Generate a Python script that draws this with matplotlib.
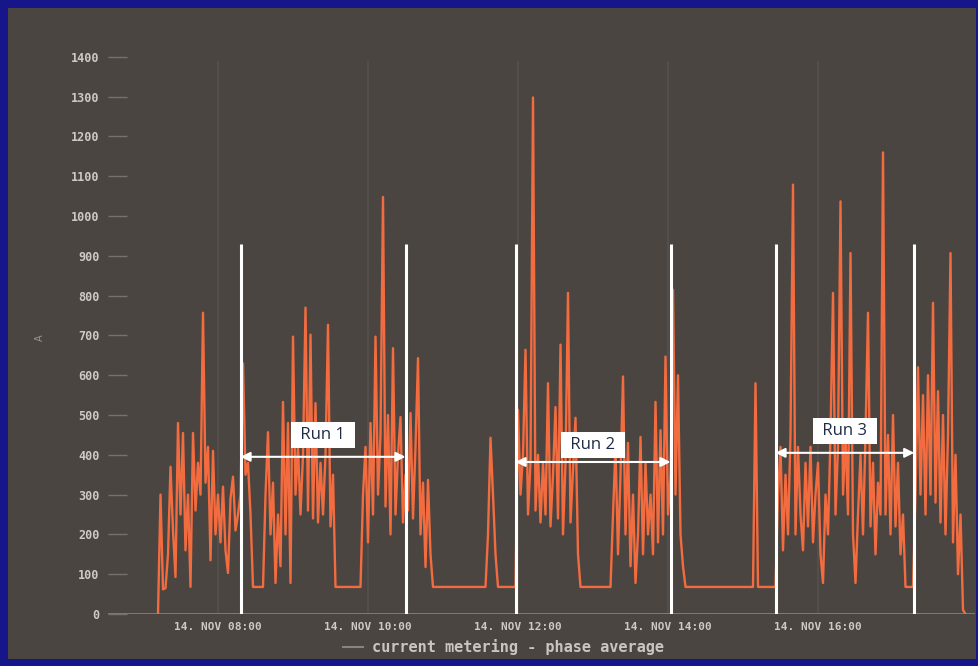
import numpy as np
import matplotlib.pyplot as plt
from matplotlib.patches import Rectangle
from matplotlib.lines import Line2D

# phase average current, one reading every 2 minutes starting 07:12
start_hour = 7 + 12 / 60
step_min = 2

seg_a = [0, 300, 62, 65, 150, 370, 210, 93, 480, 250, 455, 160, 300, 68, 455,
         260, 380, 300, 757, 330, 420, 135, 410, 200, 300, 180, 320, 160, 103, 290,
         345, 210, 250]
seg_run1 = [300, 630, 350, 380, 250, 68, 68, 68, 68, 68,
            300, 457, 200, 330, 78, 250, 120, 533, 200, 480,
            78, 697, 300, 420, 250, 400, 770, 260, 702, 240,
            530, 230, 380, 250, 400, 727, 220, 350, 68, 68,
            68, 68, 68, 68, 68, 68, 68, 68, 68,
            300, 420, 180, 480, 250, 697, 300, 450, 1048, 270,
            500, 200, 668, 250, 400, 495, 230]
seg_b = [350, 260, 505, 240, 420, 643, 200, 330, 118, 337, 150, 68] + [68] * 21 + \
        [200, 443, 300, 150, 68] + [68] * 7
seg_run2 = [513, 300, 400, 664, 250, 380, 1298, 260, 400, 230,
            380, 250, 580, 220, 350, 520, 240, 677, 200, 380,
            807, 230, 360, 493, 150, 68] + [68] * 12 + \
           [250, 420, 150, 350, 597, 200, 430, 120, 300, 78,
            200, 445, 150, 380, 200, 300, 150, 533, 180, 462,
            200, 647, 250]
seg_c = [350, 815, 300, 600, 200, 120, 68] + [68] * 27 + [580, 68] + [68] * 7
seg_run3 = [300, 420, 160, 350, 200, 450, 1079, 200, 420, 250,
            160, 380, 220, 420, 180, 300, 380, 150, 78, 300,
            200, 450, 807, 250, 420, 1037, 300, 450, 250, 907,
            200, 78, 250, 400, 200, 450, 757, 220, 380, 150,
            330, 250, 1160, 250, 450, 200, 500, 220, 380, 150,
            250, 68, 68, 68, 68]
seg_d = [300, 620, 300, 550, 250, 600, 300, 782, 280, 560,
         230, 500, 200, 450, 907, 180, 400, 100, 250, 10, 0]

current = np.concatenate([seg_a, seg_run1, seg_b, seg_run2, seg_c, seg_run3, seg_d])
hours = start_hour + np.arange(len(current)) * step_min / 60

tick_hours = [8, 10, 12, 14, 16]
tick_labels = ["14. NOV 08:00", "14. NOV 10:00", "14. NOV 12:00",
               "14. NOV 14:00", "14. NOV 16:00"]
y_ticks = list(range(0, 1500, 100))

run_names = ["Run 1", "Run 2", "Run 3"]
run_start = [8 + 18 / 60, 11 + 58 / 60, 15 + 26 / 60]
run_end = [10 + 30 / 60, 14 + 2 / 60, 17 + 17 / 60]
arrow_level = [395, 382, 405]
label_level = [450, 425, 460]
marker_top = 930

W, H = 979, 666
fig = plt.figure(figsize=(W / 100, H / 100), dpi=100)
fig.patch.set_facecolor('#16168a')
fig.add_artist(Rectangle((8 / W, 7 / H), 968 / W, 651 / H, transform=fig.transFigure,
                         facecolor='#4a4541', edgecolor='none', zorder=0))

ax = fig.add_axes([108 / W, 52 / H, 867 / W, 577 / H])
ax.set_facecolor('none')
ax.set_xlim(6.5333, 18.0933)
ax.set_ylim(0, 1450)
for s in ax.spines.values():
    s.set_visible(False)

# faint grid and base line
ax.vlines(tick_hours, 0, 1390, color='#57514d', lw=1.2, zorder=1)
ax.axhline(0, color='#8a8480', lw=1.2, zorder=1)

ax.plot(hours, current, color='#f26c40', lw=1.7, zorder=3)

mono = dict(family='DejaVu Sans Mono', weight='bold')
ax.set_yticks(y_ticks)
ax.set_yticklabels([str(v) for v in y_ticks], **mono)
ax.set_xticks(tick_hours)
ax.set_xticklabels(tick_labels, **mono)
ax.tick_params(axis='y', direction='in', length=14, width=1, color='#77716d',
               labelcolor='#cfc9c5', labelsize=8.5, pad=6)
ax.tick_params(axis='x', length=0, labelcolor='#cfc9c5', labelsize=8, pad=6)

# run markers
ax.vlines(run_start + run_end, 0, marker_top, color='white', lw=2.2, zorder=5)
for name, a, b, ya, yl in zip(run_names, run_start, run_end, arrow_level, label_level):
    ax.annotate('', xy=(b, ya), xytext=(a, ya),
                arrowprops=dict(arrowstyle='<|-|>', color='white', lw=1.5,
                                mutation_scale=14, shrinkA=0, shrinkB=0), zorder=6)
    ax.text((a + b) / 2, yl, ' ' + name + ' ', ha='center', va='center', fontsize=12,
            family='Open Sans', color='#1f2a44', zorder=7,
            bbox=dict(boxstyle='square,pad=0.3', fc='white', ec='none'))

fig.text(40 / W, 1 - 338 / H, 'A', rotation=90, color='#9a9490', fontsize=7,
         ha='center', va='center')

# legend
fig.add_artist(Line2D([343 / W, 363 / W], [1 - 647 / H] * 2, color='#8a8480', lw=1.5,
                      transform=fig.transFigure))
fig.text(372 / W, 1 - 647 / H, 'current metering - phase average', color='#cbc5c1',
         fontsize=11, va='center', ha='left', **mono)

fig.savefig('out.png', dpi=100, facecolor=fig.get_facecolor())
